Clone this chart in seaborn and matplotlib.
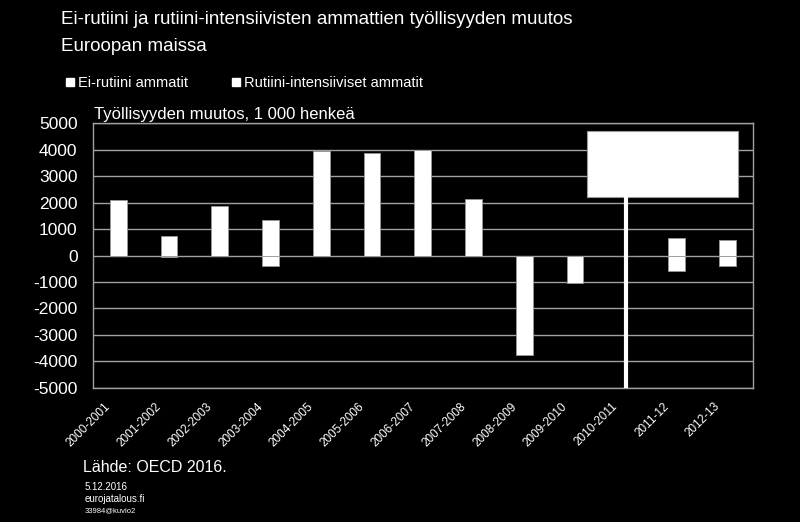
import matplotlib
matplotlib.use("Agg")
import matplotlib.pyplot as plt
import matplotlib.transforms as mtransforms
import seaborn as sns
from matplotlib.patches import Rectangle
from matplotlib.lines import Line2D

periods = ["2000-2001", "2001-2002", "2002-2003", "2003-2004", "2004-2005",
           "2005-2006", "2006-2007", "2007-2008", "2008-2009", "2009-2010",
           "2010-2011", "2011-12", "2012-13"]
ei_rutiini = [2110, 750, 1870, 1330, 3960, 3890, 3970, 2150, 0, 0, 0, 670, 570]
rutiini = [0, -60, 0, -380, 0, 0, 0, 0, -3760, -1045, 0, -600, -380]
yticks = list(range(-5000, 5001, 1000))

sns.set_style("dark")
plt.rcParams["font.family"] = ["Liberation Sans", "DejaVu Sans"]

fig = plt.figure(figsize=(8, 5.22), dpi=100, facecolor="black")
ax = fig.add_axes([0.116, 0.257, 0.825, 0.507])
ax.set_facecolor("black")

sns.barplot(x=periods, y=ei_rutiini, color="white", saturation=1, width=0.33,
            edgecolor="#999999", linewidth=0.6, ax=ax, zorder=3)
sns.barplot(x=periods, y=rutiini, color="white", saturation=1, width=0.33,
            edgecolor="#999999", linewidth=0.6, ax=ax, zorder=3)

ax.set_ylim(-5000, 5000)
ax.set_xlim(-0.5, len(periods) - 0.5)
ax.set_yticks(yticks)
ax.set_yticklabels([str(v) for v in yticks], color="white", fontsize=12.5)
ax.set_xticks(range(len(periods)))
ax.set_xticklabels(periods, rotation=45, ha="right", rotation_mode="anchor",
                   color="white", fontsize=8.5)
ax.tick_params(axis="y", length=0, pad=11)
ax.tick_params(axis="x", length=0, pad=9)
shift = mtransforms.ScaledTranslation(-10 / 72, 0, fig.dpi_scale_trans)
for lab in ax.get_xticklabels():
    lab.set_transform(lab.get_transform() + shift)
ax.grid(axis="y", color="#a0a0a0", linewidth=1, zorder=0)
ax.grid(axis="x", visible=False)
ax.set_axisbelow(True)
for s in ax.spines.values():
    s.set_visible(True)
    s.set_color("#a0a0a0")
    s.set_linewidth(1)

# white callout box over 2010-2011
ax.add_patch(Rectangle((9.23, 2215), 2.97, 2475, facecolor="white",
                       edgecolor="#999999", linewidth=0.8, zorder=5))
ax.plot([10, 10], [2215, -5000], color="white", linewidth=3, zorder=5)

fig.text(0.076, 0.962, "Ei-rutiini ja rutiini-intensiivisten ammattien työllisyyden muutos",
         color="white", fontsize=13.5, va="center")
fig.text(0.076, 0.91, "Euroopan maissa", color="white", fontsize=13.5, va="center")

handles = [Line2D([], [], marker="s", linestyle="none", color="white", markersize=6),
           Line2D([], [], marker="s", linestyle="none", color="white", markersize=6)]
leg = fig.legend(handles, ["Ei-rutiini ammatit", "Rutiini-intensiiviset ammatit"],
                 loc="center left", bbox_to_anchor=(0.066, 0.841), ncol=2,
                 frameon=False, fontsize=10.5, handlelength=0.5, handletextpad=0.35,
                 columnspacing=3.0, labelcolor="white")

fig.text(0.117, 0.781, "Työllisyyden muutos, 1 000 henkeä", color="white",
         fontsize=12, va="center")
fig.text(0.104, 0.104, "Lähde: OECD 2016.", color="white", fontsize=11.5, va="center")
fig.text(0.106, 0.067, "5.12.2016", color="white", fontsize=7, va="center")
fig.text(0.106, 0.045, "eurojatalous.fi", color="white", fontsize=7, va="center")
fig.text(0.106, 0.021, "33984@kuvio2", color="white", fontsize=5.5, va="center")

fig.savefig("out.png", dpi=100, facecolor="black")
